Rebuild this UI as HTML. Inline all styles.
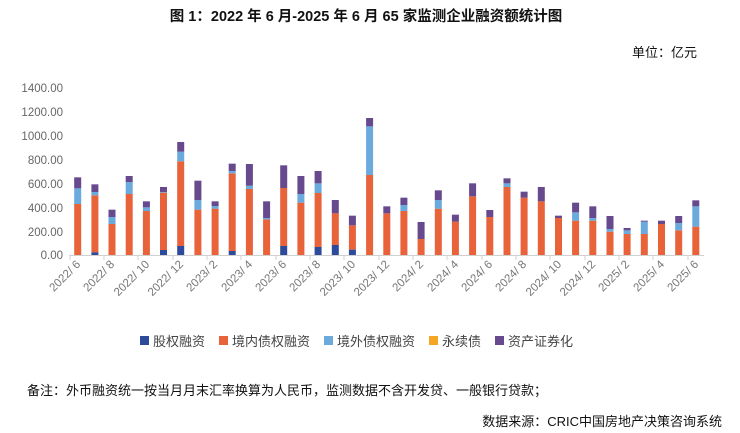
<!DOCTYPE html>
<html><head><meta charset="utf-8"><style>
body{margin:0;background:#fff;}
svg{display:block;font-family:"Liberation Sans","Noto Sans CJK SC",sans-serif;}
</style></head><body>
<svg width="740" height="433" viewBox="0 0 740 433" xmlns="http://www.w3.org/2000/svg">
<text x="366" y="21" text-anchor="middle" font-size="14.5" font-weight="bold" fill="#111">图 1：2022 年 6 月-2025 年 6 月 65 家监测企业融资额统计图</text>
<text x="697" y="57" text-anchor="end" font-size="13" fill="#111">单位：亿元</text>
<g font-size="11.5" fill="#666" text-anchor="end">
<text x="63" y="92">1400.00</text><text x="63" y="116">1200.00</text><text x="63" y="140">1000.00</text><text x="63" y="164">800.00</text><text x="63" y="188">600.00</text><text x="63" y="212">400.00</text><text x="63" y="236">200.00</text><text x="63" y="259">0.00</text>
</g>
<g transform="translate(0,80) scale(1,0.33333)">
<g fill="#e8623a">
<rect x="74.2" y="372" width="7" height="153"/><rect x="91.4" y="346" width="7" height="171"/><rect x="108.5" y="432" width="7" height="93"/><rect x="125.7" y="342" width="7" height="183"/><rect x="142.9" y="393" width="7" height="132"/><rect x="160" y="338" width="7" height="172"/><rect x="177.2" y="244" width="7" height="254"/><rect x="194.4" y="389" width="7" height="136"/><rect x="211.6" y="386" width="7" height="139"/><rect x="228.7" y="280" width="7" height="233"/><rect x="245.9" y="327" width="7" height="198"/><rect x="263.1" y="418" width="7" height="107"/><rect x="280.2" y="324" width="7" height="174"/><rect x="297.4" y="368" width="7" height="157"/><rect x="314.6" y="339" width="7" height="162"/><rect x="331.8" y="400" width="7" height="95"/><rect x="348.9" y="436" width="7" height="73"/><rect x="366.1" y="285" width="7" height="240"/><rect x="383.3" y="400" width="7" height="125"/><rect x="400.4" y="393" width="7" height="132"/><rect x="417.6" y="477" width="7" height="48"/><rect x="434.8" y="386" width="7" height="139"/><rect x="451.9" y="425" width="7" height="100"/><rect x="469.1" y="349" width="7" height="176"/><rect x="486.3" y="411" width="7" height="114"/><rect x="503.5" y="321" width="7" height="204"/><rect x="520.6" y="353" width="7" height="172"/><rect x="537.8" y="364" width="7" height="161"/><rect x="555" y="414" width="7" height="111"/><rect x="572.1" y="422" width="7" height="103"/><rect x="589.3" y="422" width="7" height="103"/><rect x="606.5" y="455" width="7" height="70"/><rect x="623.6" y="462" width="7" height="63"/><rect x="640.8" y="462" width="7" height="63"/><rect x="658" y="432" width="7" height="93"/><rect x="675.2" y="451" width="7" height="74"/><rect x="692.3" y="440" width="7" height="85"/>
</g>
<g fill="#2e4a9a">
<rect x="91.4" y="517" width="7" height="8"/><rect x="160" y="510" width="7" height="15"/><rect x="177.2" y="498" width="7" height="27"/><rect x="228.7" y="513" width="7" height="12"/><rect x="280.2" y="498" width="7" height="27"/><rect x="314.6" y="501" width="7" height="24"/><rect x="331.8" y="495" width="7" height="30"/><rect x="348.9" y="509" width="7" height="16"/>
</g>
<g fill="#6aaadc">
<rect x="74.2" y="325" width="7" height="47"/><rect x="91.4" y="336" width="7" height="10"/><rect x="108.5" y="411" width="7" height="21"/><rect x="125.7" y="306" width="7" height="36"/><rect x="142.9" y="382" width="7" height="11"/><rect x="160" y="336" width="7" height="2"/><rect x="177.2" y="215" width="7" height="29"/><rect x="194.4" y="360" width="7" height="29"/><rect x="211.6" y="378" width="7" height="8"/><rect x="228.7" y="273" width="7" height="7"/><rect x="245.9" y="317" width="7" height="10"/><rect x="263.1" y="414" width="7" height="4"/><rect x="297.4" y="342" width="7" height="26"/><rect x="314.6" y="310" width="7" height="29"/><rect x="366.1" y="139" width="7" height="146"/><rect x="400.4" y="375" width="7" height="18"/><rect x="434.8" y="360" width="7" height="26"/><rect x="503.5" y="310" width="7" height="11"/><rect x="572.1" y="397" width="7" height="25"/><rect x="589.3" y="414" width="7" height="8"/><rect x="606.5" y="447" width="7" height="8"/><rect x="623.6" y="451" width="7" height="11"/><rect x="640.8" y="425" width="7" height="37"/><rect x="675.2" y="429" width="7" height="22"/><rect x="692.3" y="379" width="7" height="61"/>
</g>
<g fill="#67498e">
<rect x="74.2" y="292" width="7" height="33"/><rect x="91.4" y="313" width="7" height="23"/><rect x="108.5" y="389" width="7" height="22"/><rect x="125.7" y="288" width="7" height="18"/><rect x="142.9" y="364" width="7" height="18"/><rect x="160" y="321" width="7" height="15"/><rect x="177.2" y="186" width="7" height="29"/><rect x="194.4" y="302" width="7" height="58"/><rect x="211.6" y="364" width="7" height="14"/><rect x="228.7" y="251" width="7" height="22"/><rect x="245.9" y="252" width="7" height="65"/><rect x="263.1" y="364" width="7" height="50"/><rect x="280.2" y="256" width="7" height="68"/><rect x="297.4" y="288" width="7" height="54"/><rect x="314.6" y="273" width="7" height="37"/><rect x="331.8" y="360" width="7" height="40"/><rect x="348.9" y="407" width="7" height="29"/><rect x="366.1" y="114" width="7" height="25"/><rect x="383.3" y="379" width="7" height="21"/><rect x="400.4" y="353" width="7" height="22"/><rect x="417.6" y="426" width="7" height="51"/><rect x="434.8" y="331" width="7" height="29"/><rect x="451.9" y="404" width="7" height="21"/><rect x="469.1" y="310" width="7" height="39"/><rect x="486.3" y="390" width="7" height="21"/><rect x="503.5" y="295" width="7" height="15"/><rect x="520.6" y="335" width="7" height="18"/><rect x="537.8" y="321" width="7" height="43"/><rect x="555" y="407" width="7" height="7"/><rect x="572.1" y="368" width="7" height="29"/><rect x="589.3" y="379" width="7" height="35"/><rect x="606.5" y="408" width="7" height="39"/><rect x="623.6" y="444" width="7" height="7"/><rect x="640.8" y="422" width="7" height="3"/><rect x="658" y="422" width="7" height="10"/><rect x="675.2" y="408" width="7" height="21"/><rect x="692.3" y="361" width="7" height="18"/>
</g>
</g>
<g stroke="#d0d0d0" stroke-width="1">
<line x1="69" y1="255.5" x2="704" y2="255.5"/>
<line x1="70" y1="255" x2="70" y2="260"/><line x1="104" y1="255" x2="104" y2="260"/><line x1="138" y1="255" x2="138" y2="260"/><line x1="173" y1="255" x2="173" y2="260"/><line x1="207" y1="255" x2="207" y2="260"/><line x1="241" y1="255" x2="241" y2="260"/><line x1="276" y1="255" x2="276" y2="260"/><line x1="310" y1="255" x2="310" y2="260"/><line x1="344" y1="255" x2="344" y2="260"/><line x1="379" y1="255" x2="379" y2="260"/><line x1="413" y1="255" x2="413" y2="260"/><line x1="447" y1="255" x2="447" y2="260"/><line x1="482" y1="255" x2="482" y2="260"/><line x1="516" y1="255" x2="516" y2="260"/><line x1="550" y1="255" x2="550" y2="260"/><line x1="585" y1="255" x2="585" y2="260"/><line x1="619" y1="255" x2="619" y2="260"/><line x1="653" y1="255" x2="653" y2="260"/><line x1="688" y1="255" x2="688" y2="260"/>
</g>
<g font-size="11.5" fill="#777" text-anchor="end">
<text transform="translate(81,265) rotate(-45)">2022/ 6</text>
<text transform="translate(115,265) rotate(-45)">2022/ 8</text>
<text transform="translate(150,265) rotate(-45)">2022/ 10</text>
<text transform="translate(184,265) rotate(-45)">2022/ 12</text>
<text transform="translate(218,265) rotate(-45)">2023/ 2</text>
<text transform="translate(253,265) rotate(-45)">2023/ 4</text>
<text transform="translate(287,265) rotate(-45)">2023/ 6</text>
<text transform="translate(321,265) rotate(-45)">2023/ 8</text>
<text transform="translate(356,265) rotate(-45)">2023/ 10</text>
<text transform="translate(390,265) rotate(-45)">2023/ 12</text>
<text transform="translate(424,265) rotate(-45)">2024/ 2</text>
<text transform="translate(459,265) rotate(-45)">2024/ 4</text>
<text transform="translate(493,265) rotate(-45)">2024/ 6</text>
<text transform="translate(527,265) rotate(-45)">2024/ 8</text>
<text transform="translate(562,265) rotate(-45)">2024/ 10</text>
<text transform="translate(596,265) rotate(-45)">2024/ 12</text>
<text transform="translate(630,265) rotate(-45)">2025/ 2</text>
<text transform="translate(665,265) rotate(-45)">2025/ 4</text>
<text transform="translate(699,265) rotate(-45)">2025/ 6</text>
</g>
<g font-size="13" fill="#444">
<rect x="140" y="336" width="9" height="9" fill="#2e4a9a"/><text x="153" y="346">股权融资</text>
<rect x="219" y="336" width="9" height="9" fill="#e8623a"/><text x="232" y="346">境内债权融资</text>
<rect x="324" y="336" width="9" height="9" fill="#6aaadc"/><text x="337" y="346">境外债权融资</text>
<rect x="429" y="336" width="9" height="9" fill="#f5a623"/><text x="442" y="346">永续债</text>
<rect x="495" y="336" width="9" height="9" fill="#67498e"/><text x="508" y="346">资产证券化</text>
</g>
<text x="27" y="395" font-size="13" fill="#111">备注：外币融资统一按当月月末汇率换算为人民币，监测数据不含开发贷、一般银行贷款；</text>
<text x="722" y="426" text-anchor="end" font-size="13" fill="#111">数据来源：CRIC中国房地产决策咨询系统</text>
</svg>
</body></html>
